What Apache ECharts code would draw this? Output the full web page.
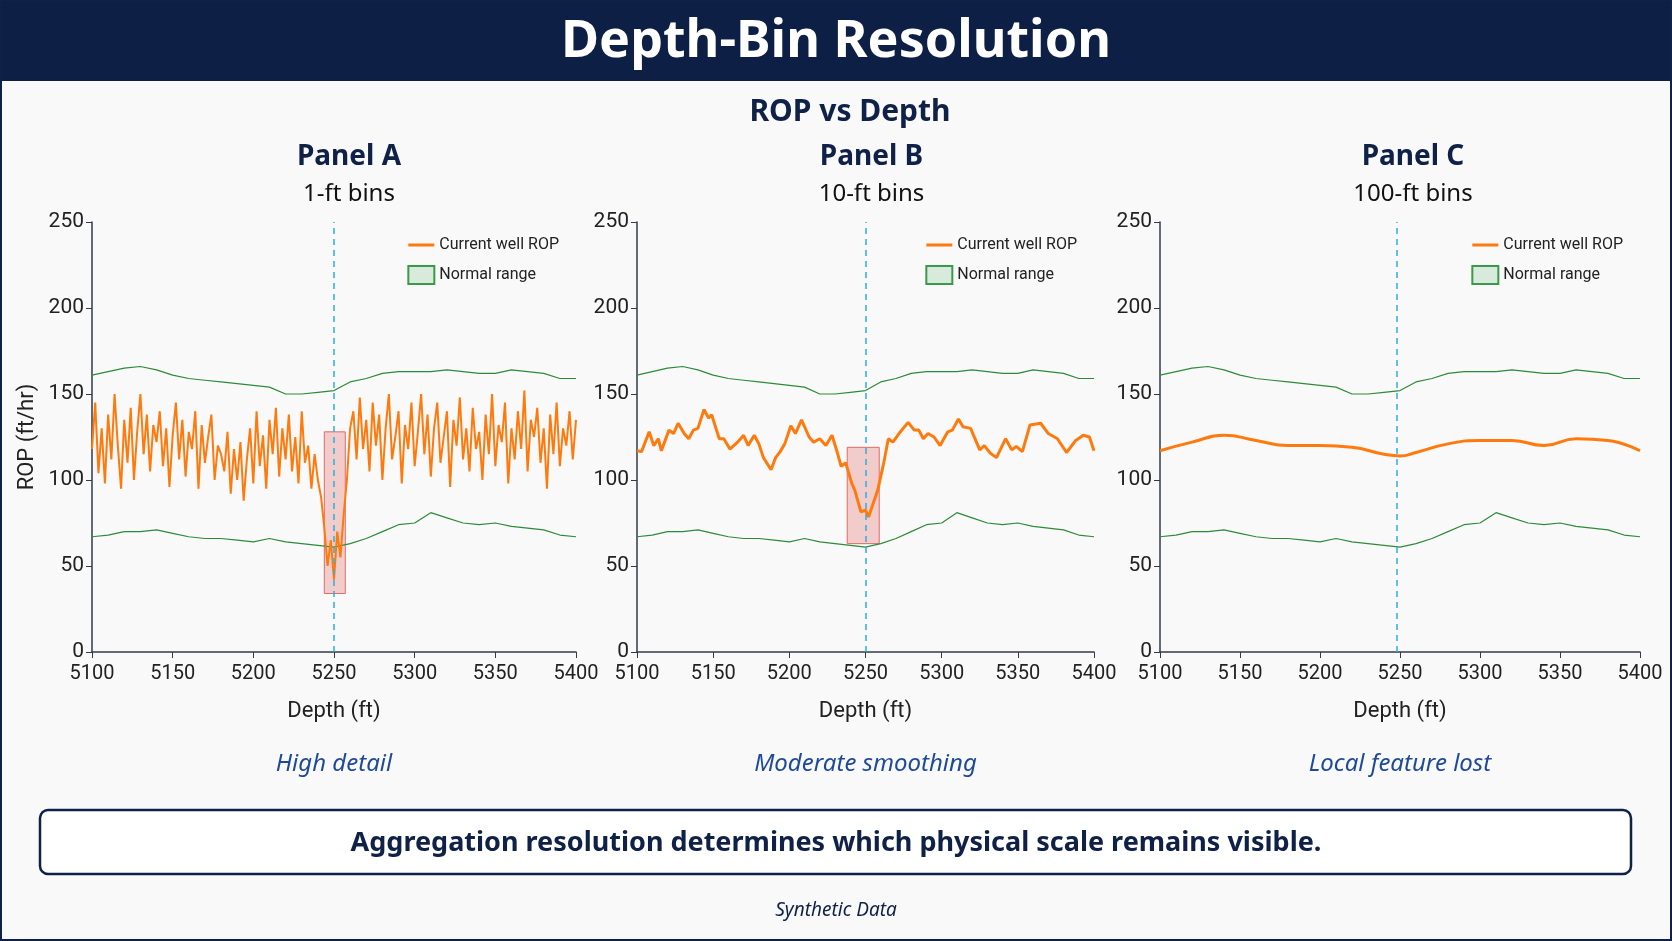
<!DOCTYPE html>
<html><head><meta charset="utf-8">
<script src="https://cdn.jsdelivr.net/npm/echarts@6/dist/echarts.min.js"></script>
<style>html,body{margin:0;padding:0;background:#f8f9f8;}#c{width:1672px;height:941px;}</style>
</head><body><div id="c"></div>
<script>
const depthsA = Array.from({length:151},(_,i)=>5100+i*2);
const ropA = [118,145,104,130,98,138,112,150,120,95,135,110,142,100,128,150,115,138,105,132,122,
140,108,130,96,126,145,112,135,102,128,118,140,95,132,110,125,138,100,120,115,
105,128,92,118,100,122,88,112,130,98,140,108,126,95,135,115,142,102,130,112,
138,105,125,98,140,110,120,95,115,100,
90,72,50,65,42,70,55,80,100,130,
140,112,148,118,135,105,145,120,138,100,130,150,112,125,140,98,132,118,145,108,
128,150,115,138,102,130,145,110,125,140,96,135,120,148,112,130,105,142,118,128,
100,138,115,150,108,132,122,145,98,130,112,140,118,152,105,135,125,142,110,130,
95,138,115,145,108,130,120,140,112,135];
const depthsB = [5100,5103,5108,5111,5114,5116,5121,5124,5127,5131,5134,5137,5140,5144,5147,5149,5154,5157,5161,5166,5170,5173,5177,5180,5183,5188,5191,5194,5197,5201,5204,5208,5213,5216,5220,5224,5228,5231,5234,5237,5241,5243,5247,5250,5252,5258,5262,5265,5268,5272,5278,5282,5285,5288,5291,5295,5299,5304,5307,5311,5314,5319,5325,5328,5332,5336,5342,5346,5349,5353,5358,5365,5370,5376,5382,5388,5393,5397,5400];
const ropB = [117,116.5,128,120,124,117,129,127,133,127,124,129,130,141,136,138,124,124,118,122,126,120,126,121,113,106,113,116.5,121,131.5,127,135,125,122,124,120,126,117.5,108,110,98,94,81.5,82.5,78.5,94,110,124,122,127,133.5,129,129,124,127,125,120,128,129,135.5,131,130,117.5,120,115.5,113,124,117.5,119.5,116.5,132,133,127,124,116,123,126,125,117];
const depthsC = [5100,5120,5140,5160,5180,5200,5220,5240,5250,5260,5280,5300,5320,5340,5360,5380,5400];
const ropC = [117,122,126,123,120,120,119,115,114,116,121,123,123,120,124,123,117];
const bandDepths = [5100,5110,5120,5130,5140,5150,5160,5170,5180,5190,5200,5210,5220,5230,5240,5250,5260,5270,5280,5290,5300,5310,5320,5330,5340,5350,5360,5370,5380,5390,5400];
const bandUpper = [161,163,165,166,164,161,159,158,157,156,155,154,150,150,151,152,157,159,162,163,163,163,164,163,162,162,164,163,162,159,159];
const bandLower = [67,68,70,70,71,69,67,66,66,65,64,66,64,63,62,61,63,66,70,74,75,81,78,75,74,75,73,72,71,68,67];
const xTicks = [5100,5150,5200,5250,5300,5350,5400];
const yTicks = [0,50,100,150,200,250];
const panels = [
 {title:'Panel A', sub:'1-ft bins', caption:'High detail', d:depthsA, v:ropA, w:2, smooth:false, box:[5244,5257,34,128], mark:5250, tshift:15},
 {title:'Panel B', sub:'10-ft bins', caption:'Moderate smoothing', d:depthsB, v:ropB, w:3, smooth:false, box:[5238,5259,63,119], mark:5250, tshift:6},
 {title:'Panel C', sub:'100-ft bins', caption:'Local feature lost', d:depthsC, v:ropC, w:3, smooth:true, box:null, mark:5248, tshift:13}
];
const grids = [{left:92,width:484},{left:637,width:457},{left:1160,width:480}];
const navy = '#0f2147';
const font = 'Roboto, "Liberation Sans", sans-serif';
const chart = echarts.init(document.getElementById('c'));
const option = {backgroundColor:'#f8f9f8', animation:false, grid:[], xAxis:[], yAxis:[], series:[], legend:[], graphic:[]};
panels.forEach((p,i)=>{
  const g = grids[i];
  option.grid.push({left:g.left, width:g.width, top:222, height:430});
  option.xAxis.push({gridIndex:i, type:'value', min:xTicks[0], max:xTicks[xTicks.length-1], interval:50,
    name:'Depth (ft)', nameLocation:'middle', nameGap:48, nameTextStyle:{fontSize:22,color:'#222',fontFamily:font},
    axisLine:{lineStyle:{color:'#333a4a',width:1.5}}, axisTick:{show:true,length:6,lineStyle:{color:'#333a4a'}},
    axisLabel:{fontSize:20,color:'#222',fontFamily:font,margin:12,formatter:v=>String(v)}, splitLine:{show:false}});
  option.yAxis.push({gridIndex:i, type:'value', min:yTicks[0], max:yTicks[yTicks.length-1], interval:50,
    name: i===0?'ROP (ft/hr)':'', nameLocation:'middle', nameGap:54, nameTextStyle:{fontSize:22,color:'#222',fontFamily:font},
    axisLine:{show:true,lineStyle:{color:'#333a4a',width:1.5}}, axisTick:{show:true,length:6,lineStyle:{color:'#333a4a'}},
    axisLabel:{fontSize:21,color:'#222',fontFamily:font,formatter:v=>String(v)}, splitLine:{show:false}});
  const stack = 'band'+i;
  option.series.push({type:'line', xAxisIndex:i, yAxisIndex:i, stack:stack, symbol:'none', silent:true,
    data:bandDepths.map((d,k)=>[d,bandLower[k]]), lineStyle:{opacity:0}, z:1});
  option.series.push({name:'Normal range', type:'line', xAxisIndex:i, yAxisIndex:i, stack:stack, symbol:'none', silent:true,
    data:bandDepths.map((d,k)=>[d,bandUpper[k]-bandLower[k]]), lineStyle:{opacity:0},
    areaStyle:{color:'rgba(120,190,130,0.18)'}, itemStyle:{color:'rgba(120,190,130,0.25)',borderColor:'#3a9a4a',borderWidth:1}, z:1});
  option.series.push({type:'line', xAxisIndex:i, yAxisIndex:i, symbol:'none', silent:true,
    data:bandDepths.map((d,k)=>[d,bandUpper[k]]), lineStyle:{color:'#2e8b3a',width:1.2}, z:2});
  option.series.push({type:'line', xAxisIndex:i, yAxisIndex:i, symbol:'none', silent:true,
    data:bandDepths.map((d,k)=>[d,bandLower[k]]), lineStyle:{color:'#2e8b3a',width:1.2}, z:2});
  const s = {name:'Current well ROP', type:'line', xAxisIndex:i, yAxisIndex:i, symbol:'none', smooth:p.smooth,
    data:p.d.map((d,k)=>[d,p.v[k]]), lineStyle:{color:'#ff7a0e',width:p.w}, itemStyle:{color:'#ff7a0e'}, z:4,
    markLine:{silent:true, symbol:'none', label:{show:false}, lineStyle:{color:'#29b0e0',type:[6,5],width:1.5}, data:[{xAxis:p.mark}]}};
  if(p.box) s.markArea = {silent:true, itemStyle:{color:'rgba(230,120,120,0.35)',borderColor:'#e06a6a',borderWidth:1},
    data:[[{coord:[p.box[0],p.box[2]]},{coord:[p.box[1],p.box[3]]}]]};
  option.series.push(s);
  option.legend.push({orient:'vertical', right:1672-(g.left+g.width)+12, top:232, itemGap:12, itemWidth:26, itemHeight:18,
    textStyle:{fontSize:16,color:'#222',fontFamily:font},
    data:[{name:'Current well ROP', icon:'path://M0,8H26V11H0Z'},{name:'Normal range', icon:'rect'}]});
  const cx = g.left + g.width/2;
  option.graphic.push({type:'text', x:cx+p.tshift, y:157, style:{text:p.title, fill:navy, font:'bold 28px "Noto Sans", sans-serif', textAlign:'center', textVerticalAlign:'middle'}});
  option.graphic.push({type:'text', x:cx+p.tshift, y:194, style:{text:p.sub, fill:'#111', font:'24px "Noto Sans", sans-serif', textAlign:'center', textVerticalAlign:'middle'}});
  option.graphic.push({type:'text', x:cx, y:764, style:{text:p.caption, fill:'#1f4a9a', font:'italic 24px "Noto Sans", sans-serif', textAlign:'center', textVerticalAlign:'middle'}});
});
option.graphic.push(
  {type:'rect', shape:{x:0,y:0,width:1672,height:81}, style:{fill:'#0d1f45'}, z:-1},
  {type:'rect', shape:{x:1,y:1,width:1670,height:939}, style:{fill:'none',stroke:navy,lineWidth:2}},
  {type:'text', x:836, y:42, style:{text:'Depth-Bin Resolution', fill:'#fff', font:'bold 52px "Noto Sans", sans-serif', textAlign:'center', textVerticalAlign:'middle'}},
  {type:'text', x:850, y:112, style:{text:'ROP vs Depth', fill:navy, font:'bold 30px "Noto Sans", sans-serif', textAlign:'center', textVerticalAlign:'middle'}},
  {type:'rect', shape:{x:40,y:810,width:1591,height:64,r:8}, style:{fill:'#fff',stroke:navy,lineWidth:2.5}},
  {type:'text', x:836, y:843, style:{text:'Aggregation resolution determines which physical scale remains visible.', fill:navy, font:'bold 27px "Noto Sans", sans-serif', textAlign:'center', textVerticalAlign:'middle'}},
  {type:'text', x:836, y:911, style:{text:'Synthetic Data', fill:navy, font:'italic 19px "Noto Sans", sans-serif', textAlign:'center', textVerticalAlign:'middle'}}
);
chart.setOption(option);
</script></body></html>
